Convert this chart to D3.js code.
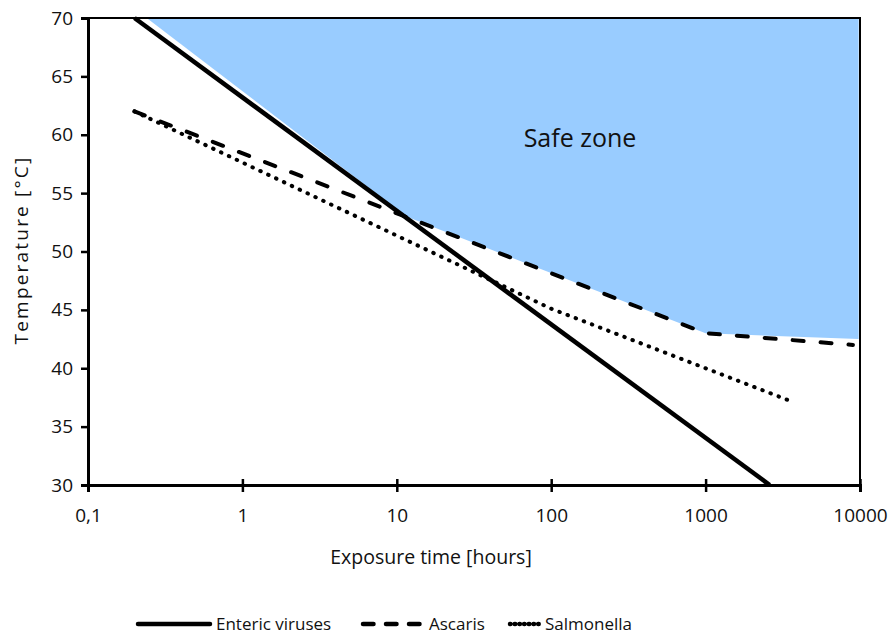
<!DOCTYPE html>
<html lang="en">
<head>
<meta charset="UTF-8">
<title>Safe zone</title>
<script src="https://d3js.org/d3.v7.min.js"></script>
<style>
body { margin: 0; background: #fff; }
text { font-family: "Open Sans", sans-serif; fill: #111; }
</style>
</head>
<body>
<script>
// values
var xTicks = [0.1, 1, 10, 100, 1000, 10000];
var xTickLabels = ["0,1", "1", "10", "100", "1000", "10000"];
var yTicks = [30, 35, 40, 45, 50, 55, 60, 65, 70];

var entericHours = [0.2, 2600];
var entericTemp = [70, 30];
var ascarisHours = [0.2, 1000, 9000];
var ascarisTemp = [62, 43, 42];
var salmonellaHours = [0.2, 100, 1000, 3700];
var salmonellaTemp = [62, 45.1, 40, 37.1];
// upper-right region of the chart (shaded)
var safeHours = [0.24, 11.5, 1000, 9800, 9800];
var safeTemp = [70, 53, 43, 42.5, 70];

var width = 891, height = 634;
var plotLeft = 88, plotRight = 860, plotTop = 18, plotBottom = 485;

var svg = d3.select("body").append("svg")
  .attr("width", width)
  .attr("height", height);

var x = d3.scaleLog().domain([0.1, 10000]).range([plotLeft, plotRight]);
var y = d3.scaleLinear().domain([30, 70]).range([plotBottom, plotTop]);

function pts(h, t) {
  return h.map(function(d, i) { return [d, t[i]]; });
}

var line = d3.line()
  .x(function(d) { return x(d[0]); })
  .y(function(d) { return y(d[1]); });

// safe zone
svg.append("path")
  .datum(pts(safeHours, safeTemp))
  .attr("d", line.curve(d3.curveLinearClosed))
  .style("fill", "#99ccff");
line.curve(d3.curveLinear);

svg.append("text")
  .attr("x", 580).attr("y", 147)
  .attr("text-anchor", "middle")
  .style("font-size", "25px")
  .text("Safe zone");

// frame
svg.append("rect")
  .attr("x", plotLeft).attr("y", plotTop)
  .attr("width", plotRight - plotLeft).attr("height", plotBottom - plotTop)
  .style("fill", "none")
  .style("stroke", "#000")
  .style("stroke-width", 2);

var series = [
  { name: "Enteric viruses", data: pts(entericHours, entericTemp), dash: null },
  { name: "Ascaris", data: pts(ascarisHours, ascarisTemp), dash: "11,17" },
  { name: "Salmonella", data: pts(salmonellaHours, salmonellaTemp), dash: "0.5,8.2" }
];

svg.selectAll(".series")
  .data(series)
  .enter().append("path")
  .attr("class", "series")
  .attr("d", function(d) { return line(d.data); })
  .style("fill", "none")
  .style("stroke", "#000")
  .style("stroke-width", function(d) { return d.dash ? 4 : 4.5; })
  .style("stroke-linecap", function(d) { return d.dash ? "round" : "butt"; })
  .style("stroke-dasharray", function(d) { return d.dash; });

// axes
var yAxis = svg.append("g")
  .attr("transform", "translate(" + plotLeft + ",0)")
  .call(d3.axisLeft(y).tickValues(yTicks).tickSize(7).tickPadding(8));

var xAxis = svg.append("g")
  .attr("transform", "translate(0," + plotBottom + ")")
  .call(d3.axisBottom(x).tickValues(xTicks)
    .tickFormat(function(d, i) { return xTickLabels[i]; })
    .tickSize(7).tickPadding(17));

xAxis.selectAll(".tick line").attr("y1", -6);

[xAxis, yAxis].forEach(function(a) {
  a.select(".domain").style("stroke-width", 3).style("stroke", "#000");
  a.selectAll(".tick line").style("stroke-width", 2.5).style("stroke", "#000");
  a.selectAll(".tick text").style("font-size", "19px").style("fill", "#111");
});

svg.append("text")
  .attr("x", 431).attr("y", 564)
  .attr("text-anchor", "middle")
  .style("font-size", "19.5px")
  .text("Exposure  time  [hours]");

svg.append("text")
  .attr("transform", "translate(28,250) rotate(-90)")
  .attr("text-anchor", "middle")
  .style("font-size", "19px")
  .style("letter-spacing", "2.2px")
  .text("Temperature  [°C]");

// legend
var legendX = [138, 363, 510];
var legendW = [72, 60, 29];
var leg = svg.selectAll(".legend")
  .data(series)
  .enter().append("g")
  .attr("class", "legend");

leg.append("line")
  .attr("x1", function(d, i) { return legendX[i]; })
  .attr("x2", function(d, i) { return legendX[i] + legendW[i]; })
  .attr("y1", 624).attr("y2", 624)
  .style("stroke", "#000")
  .style("stroke-width", 4.5)
  .style("stroke-linecap", "round")
  .style("stroke-dasharray", function(d, i) { return i === 1 ? "10.5,12.5" : i === 2 ? "0.5,4.2" : null; });

leg.append("text")
  .attr("x", function(d, i) { return legendX[i] + legendW[i] + 6; })
  .attr("y", 630)
  .style("font-size", "17px")
  .text(function(d) { return d.name; });
</script>
</body>
</html>
